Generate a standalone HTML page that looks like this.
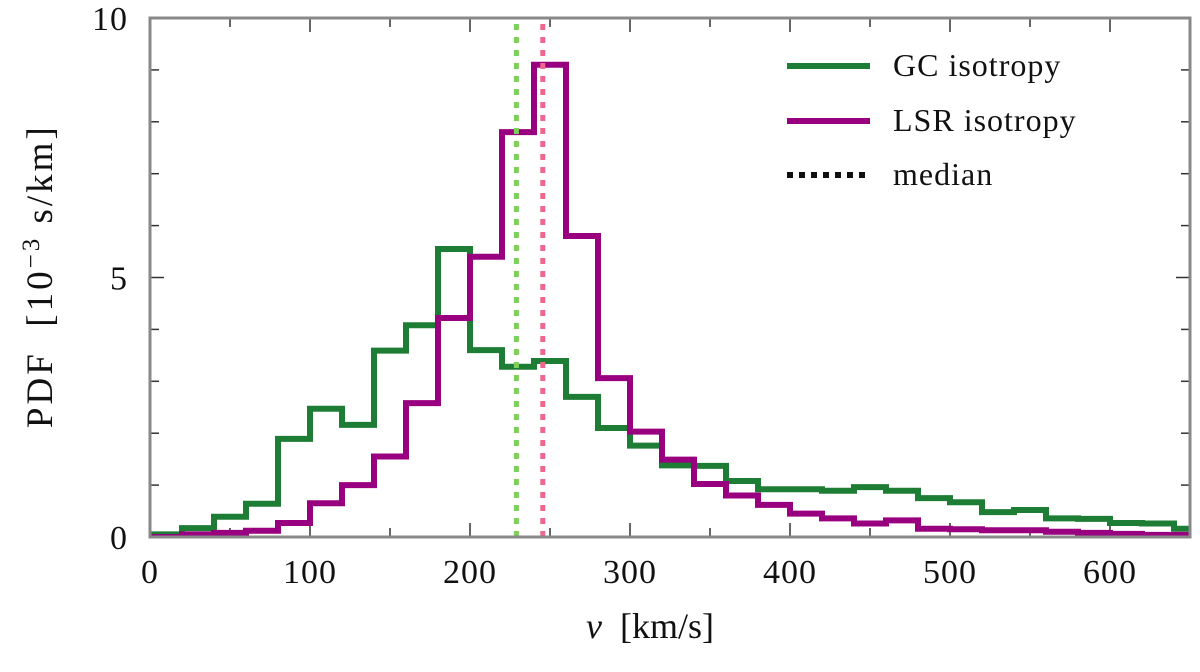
<!DOCTYPE html>
<html><head><meta charset="utf-8"><style>
body{margin:0;background:#fff}
svg{display:block;font-family:"Liberation Serif",serif}
</style></head><body>
<svg id="c" width="1200" height="672"></svg>
<script>
const binEdgesStart = 0;
const binWidth = 20;
const gcValues = [0.05,0.17,0.39,0.64,1.89,2.47,2.16,3.59,4.08,5.55,3.6,3.28,3.39,2.7,2.1,1.76,1.38,1.37,1.08,0.92,0.92,0.89,0.96,0.89,0.75,0.67,0.48,0.52,0.36,0.35,0.27,0.26,0.16];
const lsrValues = [0,0.05,0.08,0.12,0.27,0.65,1.0,1.55,2.58,4.22,5.4,7.8,9.1,5.8,3.06,2.03,1.49,1.02,0.80,0.62,0.45,0.36,0.26,0.32,0.16,0.15,0.13,0.13,0.10,0.08,0.06,0.04,0.04];
const medians = [229, 245.5];
const xTicks = [0,100,200,300,400,500,600];
const yTicks = [0,5,10];
const NS='http://www.w3.org/2000/svg';
const svg=document.getElementById('c');
const X=v=>150+v*1.6, Y=h=>537-h*51.9;
function mk(t,a,p){const e=document.createElementNS(NS,t);for(const k in a)e.setAttribute(k,a[k]);(p||svg).appendChild(e);return e;}
const defs=mk('defs',{});const cp=mk('clipPath',{id:'pc'},defs);mk('rect',{x:150,y:18,width:1040,height:519},cp);
const tg=mk('g',{stroke:'#333','stroke-width':1.5});

for(let v=0;v<=650;v+=50){const L=v%100==0?14:9;mk('line',{x1:X(v),x2:X(v),y1:537,y2:537-L},tg);mk('line',{x1:X(v),x2:X(v),y1:18,y2:18+L},tg);}
for(let h=0;h<=10;h++){const L=h%5==0?14:9;mk('line',{x1:150,x2:150+L,y1:Y(h),y2:Y(h)},tg);mk('line',{x1:1190,x2:1190-L,y1:Y(h),y2:Y(h)},tg);}
function hist(vals,color,name){let d='';vals.forEach((h,i)=>{const x0=X(binEdgesStart+i*binWidth),x1=X(binEdgesStart+(i+1)*binWidth);d+=(i==0?'M'+x0+','+Y(0)+'L':'L')+x0+','+Y(h)+'L'+x1+','+Y(h);});
const p=mk('path',{d:d,fill:'none',stroke:color,'stroke-width':6,'clip-path':'url(#pc)'});
}
hist(gcValues,'#1e7d34','gc-isotropy-histogram');
hist(lsrValues,'#990080','lsr-isotropy-histogram');
const mc=['#7dd05a','#f0668c'];
medians.forEach((m,i)=>{const l=mk('line',{x1:X(m),x2:X(m),y1:537,y2:18,stroke:mc[i],'stroke-width':5,'stroke-dasharray':'6,7'});
});
const fr=mk('rect',{x:150,y:18,width:1040,height:519,fill:'none',stroke:'#888','stroke-width':3});

xTicks.forEach(v=>{const t=mk('text',{x:X(v),y:583,'text-anchor':'middle','font-size':34,fill:'#111','letter-spacing':1});t.textContent=v;
});
yTicks.forEach(h=>{const t=mk('text',{x:128,y:Y(h)+12,'text-anchor':'end','font-size':34,fill:'#111','letter-spacing':1});t.textContent=h;
});
const leg=[['#1e7d34','GC isotropy',66,null],['#990080','LSR isotropy',121,null],['#111','median',175,'6,6']];
leg.forEach(([c,txt,y,da],i)=>{const g=mk('g',{});
const a={x1:787,x2:870,y1:y,y2:y,stroke:c,'stroke-width':6};if(da)a['stroke-dasharray']=da;mk('line',a,g);
const t=mk('text',{x:893,y:y+10,'font-size':32,fill:'#111','letter-spacing':1},g);t.textContent=txt;});
</script>
<div style="position:absolute;left:0;top:605px;width:1300px;text-align:center;font:36px 'Liberation Serif',serif;color:#111"><i>v</i>&nbsp; [km/s]</div>
<div style="position:absolute;left:-210px;top:254px;width:500px;text-align:center;transform:rotate(-90deg);font:37px 'Liberation Serif',serif;color:#111;letter-spacing:3px;white-space:nowrap">PDF &nbsp;[10<sup style="font-size:25px">−3</sup> s/km]</div>
</body></html>
